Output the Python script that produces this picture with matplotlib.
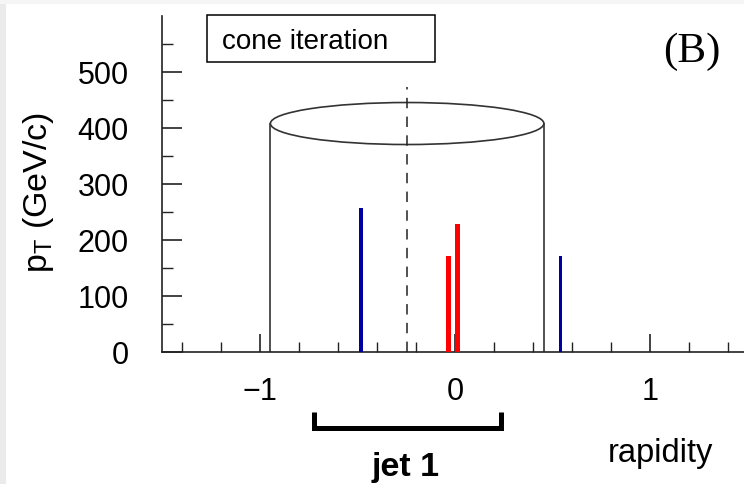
import matplotlib
matplotlib.use("Agg")
import matplotlib.pyplot as plt
from matplotlib.patches import Ellipse, Rectangle
from matplotlib.ticker import MultipleLocator, FixedLocator

plt.rcParams["font.family"] = ["Liberation Sans", "DejaVu Sans"]
plt.rcParams["mathtext.fontset"] = "custom"
plt.rcParams["mathtext.rm"] = "Liberation Sans"
plt.rcParams["lines.scale_dashes"] = False

# particles: rapidity, pT
blue_y = [-0.48, 0.54]
blue_pt = [257, 171]
red_y = [-0.035, 0.012]
red_pt = [171, 228]

# cone
cone_center = -0.245
cone_radius = 0.7
cone_height = 408
seed_top = 474

# jet 1 bracket (rapidity range)
jet_range = [-0.72, 0.235]

y_major = [0, 100, 200, 300, 400, 500]
y_minor = [50, 150, 250, 350, 450, 550]

W, H = 744, 485
fig = plt.figure(figsize=(W / 100, H / 100), dpi=100, facecolor="white")

# light grey border of the screenshot
fig.patches.append(Rectangle((0, 0), 6 / W, 1, transform=fig.transFigure,
                             fc="#ebebeb", ec="none", zorder=-5))
fig.patches.append(Rectangle((0, 1 - 5 / H), 1, 5 / H, transform=fig.transFigure,
                             fc="#f5f5f5", ec="none", zorder=-5))

ax = fig.add_axes([162 / W, 1 - 353 / H, 586 / W, 336 / H])
ax.set_xlim(-1.5, 1.5)
ax.set_ylim(0, 600)
for s in ["top", "right"]:
    ax.spines[s].set_visible(False)
for s in ["left", "bottom"]:
    ax.spines[s].set_linewidth(1.2)
    ax.spines[s].set_color("#222222")

ax.xaxis.set_major_locator(MultipleLocator(1))
ax.xaxis.set_minor_locator(MultipleLocator(0.2))
ax.yaxis.set_major_locator(FixedLocator(y_major))
ax.yaxis.set_minor_locator(FixedLocator(y_minor))
ax.tick_params(axis="x", which="major", direction="in", length=13, width=1.2,
               pad=17, labelsize=22, color="#222222")
ax.tick_params(axis="x", which="minor", direction="in", length=7, width=1.0,
               color="#222222")
ax.tick_params(axis="y", which="major", direction="in", length=14.5, width=1.2,
               pad=24, labelsize=22, color="#222222")
ax.tick_params(axis="y", which="minor", direction="in", length=8, width=1.0,
               color="#222222")
ax.xaxis.set_major_formatter(plt.FuncFormatter(
    lambda v, p: ("\u2212%d" % abs(v)) if v < 0 else "%d" % v))

# cone
ax.plot([cone_center - cone_radius] * 2, [0, cone_height], color="#333333", lw=1.2)
ax.plot([cone_center + cone_radius] * 2, [0, cone_height], color="#333333", lw=1.2)
ax.add_patch(Ellipse((cone_center, cone_height), 2 * cone_radius, 75,
                     fill=False, ec="#333333", lw=1.2))
ax.plot([cone_center, cone_center], [0, seed_top], color="#222222", lw=1.1,
        dashes=(7.5, 6))

# particles
ax.bar(blue_y, blue_pt, width=0.02, color="#0000a0", zorder=3)
ax.bar(red_y, red_pt, width=0.024, color="#ff0000", zorder=3)

# label box
ax.add_patch(Rectangle((-1.269, 517), 1.167, 84, fill=False, ec="black",
                       lw=1.1, clip_on=False))
ax.text(-1.192, 556, "cone iteration", fontsize=20, va="center", ha="left")

# jet bracket
ax.plot([jet_range[0], jet_range[0], jet_range[1], jet_range[1]],
        [-107, -136, -136, -107], color="black", lw=3.6,
        solid_joinstyle="miter", solid_capstyle="butt", clip_on=False)

fig.text(406 / W, 1 - 476 / H, "jet 1", fontsize=24.5, fontweight="bold",
         ha="center", va="baseline")
fig.text(608 / W, 1 - 462 / H, "rapidity", fontsize=23.5, ha="left", va="baseline")
fig.text(663 / W, 1 - 62 / H, "(B)", fontsize=31, family="Liberation Serif",
         ha="left", va="baseline")
fig.text(39 / W, 1 - 192 / H, "p$_\\mathrm{T}$ (GeV/c)", fontsize=24.5,
         rotation=90, ha="center", va="center")

fig.savefig("out.png", dpi=100)
